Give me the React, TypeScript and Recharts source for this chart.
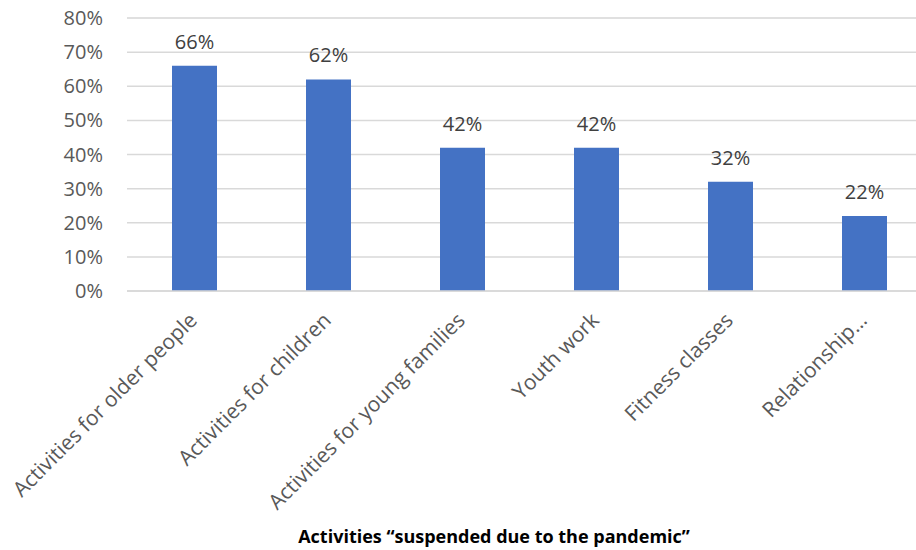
import React from "react";
import {
  BarChart,
  Bar,
  XAxis,
  YAxis,
  CartesianGrid,
  LabelList,
} from "recharts";

const categories = [
  "Activities for older people",
  "Activities for children",
  "Activities for young families",
  "Youth work",
  "Fitness classes",
  "Relationship…",
];
const values = [66, 62, 42, 42, 32, 22];
const yTicks = [0, 10, 20, 30, 40, 50, 60, 70, 80];
const minorTicks = [2, 4, 6, 8, 12, 14, 16, 18, 22, 24, 26, 28, 32, 34, 36, 38, 42, 44, 46, 48, 52, 54, 56, 58, 62, 64, 66, 68, 72, 74, 76, 78];
const title = "Activities “suspended due to the pandemic”";

const data = categories.map((name, i) => ({ name, value: values[i] }));

const FONT = "'Open Sans', sans-serif";
const W = 940;
const H = 550;
const MARGIN = { top: 18, right: 9, bottom: 0, left: 0 };

function XTick({ x, y, payload }: any) {
  return (
    <text
      x={x}
      y={y}
      dx={-13}
      dy={19}
      transform={`rotate(-45 ${x} ${y})`}
      textAnchor="end"
      fill="#595959"
      fontSize={21}
      fontFamily={FONT}
    >
      {payload.value}
    </text>
  );
}

// minor gridlines sit in a chart behind the main one so the bars cover them
function MinorGrid() {
  return (
    <BarChart width={W} height={H} data={data} margin={MARGIN}>
      <CartesianGrid vertical={false} stroke="#eeeeee" strokeWidth={1} />
      <XAxis dataKey="name" height={259} tick={false} tickLine={false} axisLine={false} />
      <YAxis
        width={127}
        domain={[0, 80]}
        ticks={minorTicks}
        tick={false}
        tickLine={false}
        axisLine={false}
      />
    </BarChart>
  );
}

export default function App() {
  return (
    <div
      style={{
        position: "fixed",
        left: 0,
        top: 0,
        width: 916,
        height: 550,
        overflow: "hidden",
        background: "#fff",
        fontFamily: FONT,
      }}
    >
      <div style={{ position: "absolute", left: 0, top: 0 }}>
        <MinorGrid />
      </div>
      <div style={{ position: "absolute", left: 0, top: 0 }}>
        <BarChart width={W} height={H} data={data} margin={MARGIN}>
          <CartesianGrid vertical={false} stroke="#d9d9d9" strokeWidth={1.5} />
          <XAxis
            dataKey="name"
            height={259}
            interval={0}
            tickLine={false}
            axisLine={{ stroke: "#d9d9d9", strokeWidth: 1.5 }}
            tick={<XTick />}
          />
          <YAxis
            width={127}
            domain={[0, 80]}
            ticks={yTicks}
            tickFormatter={(v) => `${v}%`}
            axisLine={false}
            tickLine={false}
            tickMargin={18}
            tick={{ fill: "#595959", fontSize: 20, fontFamily: FONT }}
          />
          <Bar dataKey="value" fill="#4472C4" barSize={45} isAnimationActive={false}>
            <LabelList
              dataKey="value"
              position="top"
              offset={17}
              formatter={(v: any) => `${v}%`}
              fill="#404040"
              fontSize={20}
              fontFamily={FONT}
            />
          </Bar>
        </BarChart>
      </div>
      <div
        style={{
          position: "absolute",
          left: 244,
          width: 500,
          top: 524,
          textAlign: "center",
          fontWeight: "bold",
          fontSize: 18,
          color: "#000",
          whiteSpace: "nowrap",
        }}
      >
        {title}
      </div>
    </div>
  );
}
